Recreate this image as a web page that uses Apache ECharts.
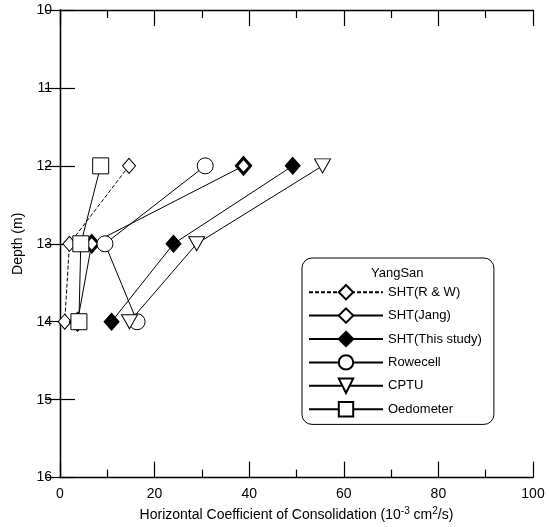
<!DOCTYPE html>
<html>
<head>
<meta charset="utf-8">
<script src="https://cdn.jsdelivr.net/npm/echarts@6/dist/echarts.min.js"></script>
<style>
  html, body { margin: 0; padding: 0; background: #fff; }
  #chart { width: 549px; height: 527px; }
</style>
</head>
<body>
<div id="chart"></div>
<script>
// depths (m) and horizontal coefficient of consolidation (10^-3 cm2/s)
var depths = [12, 13, 14];
var shtRW = [14.6, 2.0, 1.0];
var shtJang = [38.8, 6.7, 3.7];
var shtStudy = [49.2, 24.0, 10.9];
var rowecell = [30.7, 9.5, 16.3];
var cptu = [55.5, 28.9, 14.7];
var oedometer = [8.6, 4.4, 4.0];
var seriesNames = ['SHT(R & W)', 'SHT(Jang)', 'SHT(This study)', 'Rowecell', 'CPTU', 'Oedometer'];

var font = 'Arial, "Liberation Sans", sans-serif';

function pairs(vals) {
    return vals.map(function (v, i) { return [v, depths[i]]; });
}

var dom = document.getElementById('chart');
var myChart = echarts.init(dom);

function mkSeries(name, vals, symbol, size, fill, border, extra) {
    var s = {
        name: name,
        type: 'line',
        xAxisIndex: 0,
        yAxisIndex: 0,
        data: pairs(vals),
        symbol: symbol,
        symbolSize: size,
        showAllSymbol: true,
        lineStyle: { color: '#000', width: 1 },
        itemStyle: { color: fill, borderColor: '#000', borderWidth: border, opacity: 1 },
        emphasis: { disabled: true },
        animation: false
    };
    for (var k in extra) s[k] = extra[k];
    return s;
}

var tickStyle = { color: '#000', width: 1.2 };

var option = {
    animation: false,
    textStyle: { fontFamily: font, color: '#000' },
    grid: { left: 60, right: 16, top: 10, bottom: 49 },
    xAxis: [
        {
            type: 'value',
            min: 0, max: 100, interval: 20,
            position: 'bottom',
            axisLine: { lineStyle: { color: '#000', width: 1.3 } },
            axisTick: { inside: true, length: 16, lineStyle: tickStyle },
            minorTick: { show: true, splitNumber: 2, length: 8, lineStyle: tickStyle },
            splitLine: { show: false },
            axisLabel: { color: '#000', fontSize: 14, fontFamily: font, margin: 10 },
            name: 'Horizontal Coefficient of Consolidation (10{sup|-3} cm{sup|2}/s)',
            nameLocation: 'middle',
            nameGap: 27,
            nameTextStyle: {
                color: '#000', fontSize: 14, fontFamily: font,
                rich: { sup: { fontSize: 10, verticalAlign: 'top', padding: [0, 0, 7, 0], fontFamily: font, color: '#000' } }
            }
        },
        {
            type: 'value',
            min: 0, max: 100, interval: 20,
            position: 'top',
            axisLine: { lineStyle: { color: '#000', width: 1.3 } },
            axisTick: { inside: true, length: 16, lineStyle: tickStyle },
            minorTick: { show: true, splitNumber: 2, length: 8, lineStyle: tickStyle },
            splitLine: { show: false },
            axisLabel: { show: false }
        }
    ],
    yAxis: [
        {
            type: 'value',
            inverse: true,
            min: 10, max: 16, interval: 1,
            position: 'left',
            axisLine: { lineStyle: { color: '#000', width: 1.3 } },
            axisTick: { inside: true, length: 15, lineStyle: tickStyle },
            splitLine: { show: false },
            axisLabel: { color: '#000', fontSize: 14, fontFamily: font, margin: 8 },
            name: 'Depth (m)',
            nameLocation: 'middle',
            nameRotate: 90,
            nameGap: 35,
            nameTextStyle: { color: '#000', fontSize: 14, fontFamily: font }
        },
        {
            type: 'value',
            inverse: true,
            min: 10, max: 16, interval: 1,
            position: 'right',
            axisLine: { lineStyle: { color: '#000', width: 1.3 } },
            axisTick: { inside: true, length: 15, lineStyle: tickStyle },
            splitLine: { show: false },
            axisLabel: { show: false }
        }
    ],
    legend: {
        orient: 'vertical',
        left: 302,
        top: 258,
        padding: [26, 12, 7, 6],
        itemWidth: 74,
        itemHeight: 18,
        itemGap: 7,
        backgroundColor: '#fff',
        borderColor: '#000',
        borderWidth: 1,
        borderRadius: 10,
        symbolRotate: 'inherit',
        selectedMode: false,
        textStyle: { color: '#000', fontSize: 13, fontFamily: font },
        data: seriesNames
    },
    graphic: [
        {
            type: 'text',
            left: 371,
            top: 267,
            z: 100,
            style: { text: 'YangSan', fontSize: 13, fontFamily: font, fill: '#000' }
        }
    ],
    series: [
        mkSeries(seriesNames[0], shtRW, 'diamond', [13, 15], '#fff', 1,
            { lineStyle: { color: '#000', width: 1, type: [4, 2] } }),
        mkSeries(seriesNames[1], shtJang, 'diamond', [14, 16], '#fff', 3, {}),
        mkSeries(seriesNames[2], shtStudy, 'diamond', [15, 17], '#000', 1, {}),
        mkSeries(seriesNames[3], rowecell, 'circle', 16, '#fff', 1, {}),
        mkSeries(seriesNames[4], cptu, 'triangle', [16, 14], '#fff', 1, { symbolRotate: 180 }),
        mkSeries(seriesNames[5], oedometer, 'rect', 16, '#fff', 1, {})
    ]
};

if (option && typeof option === "object") {
    myChart.setOption(option, true);
}
</script>
</body>
</html>
